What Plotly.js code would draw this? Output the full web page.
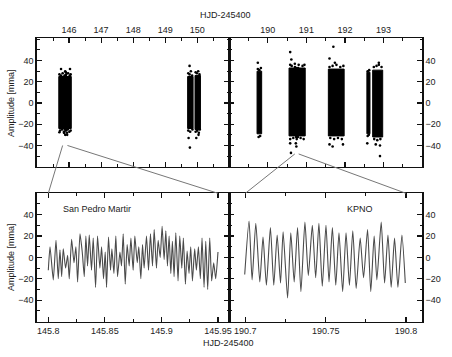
<!DOCTYPE html>
<html><head><meta charset="utf-8">
<script src="https://cdn.plot.ly/plotly-3.0.1.min.js"></script>
<style>html,body{margin:0;padding:0;background:#fff}#c{width:452px;height:357px}</style>
</head><body><div id="c"></div>
<script>
// ---- Data ----
// San Pedro Martir light curve (HJD-245400, amplitude mma)
const spmT = [145.8000,145.8015,145.8044,145.8068,145.8088,145.8103,145.8118,145.8132,145.8153,145.8171,
145.8185,145.8206,145.8227,145.8244,145.8259,145.8280,145.8300,145.8318,145.8332,145.8347,
145.8362,145.8382,145.8397,145.8418,145.8435,145.8456,145.8471,145.8488,145.8503,145.8515,
145.8532,145.8550,145.8562,145.8580,145.8597,145.8612,145.8633,145.8647,145.8662,145.8680,
145.8697,145.8715,145.8730,145.8750,145.8765,145.8786,145.8800,145.8818,145.8833,145.8847,
145.8868,145.8886,145.8903,145.8921,145.8936,145.8956,145.8971,145.8989,145.9006,145.9024,
145.9039,145.9053,145.9068,145.9083,145.9097,145.9112,145.9127,145.9147,145.9162,145.9180,
145.9194,145.9212,145.9227,145.9244,145.9259,145.9274,145.9294,145.9309,145.9327,145.9344,
145.9359,145.9377,145.9392,145.9409,145.9427,145.9444,145.9462,145.9480,145.9500];
const spmY = [-12,10,-21,16,-20,7,-18,8,-10,2,
-20,17,-5,10,-23,22,5,-18,20,-8,
21,-12,18,-28,20,-10,10,-20,5,-28,
19,-12,8,-15,20,-18,5,-8,22,-25,
12,-8,18,-12,20,-5,10,-20,12,-10,
20,-12,22,-8,26,-10,16,0,29,-2,
25,-8,20,-15,15,-18,23,-22,20,-10,
18,-25,6,-15,10,-22,8,-12,10,-20,
18,-28,15,-30,18,-22,-5,-20,5];
// KPNO light curve
const kpnoT = [190.6996,190.7023,190.7042,190.7065,190.7090,190.7110,190.7131,190.7156,190.7177,190.7198,
190.7219,190.7235,190.7263,190.7283,190.7304,190.7325,190.7346,190.7371,190.7392,190.7417,
190.7438,190.7458,190.7479,190.7502,190.7521,190.7542,190.7563,190.7583,190.7606,190.7627,
190.7648,190.7669,190.7690,190.7715,190.7736,190.7761,190.7781,190.7802,190.7819,190.7846,
190.7867,190.7888,190.7908,190.7929,190.7950,190.7975,190.7996];
const kpnoY = [-16,34,-21,32,-23,19,-26,28,-26,21,
-24,24,-38,23,-23,28,-32,33,-17,30,
-19,32,-27,30,-23,28,-26,23,-32,23,
-26,25,-29,18,-19,26,-32,20,-21,33,
-24,21,-28,18,-28,21,-24];
// Dense observing runs in the overview panels (core bands)
const bandStart = [145.68,149.70,149.93,189.72,190.55,191.57,192.57,192.72];
const bandEnd   = [146.07,149.87,150.10,189.84,190.97,191.98,192.65,192.98];
const bandLow   = [-24,-24,-25,-29,-31,-31,-29,-32];
const bandHigh  = [25,25,26,30,33,32,29,31];
const bandPanel = ['L','L','L','R','R','R','R','R'];
// Edge / outlier points, left overview (145-151)
const tlPtsX = [145.70,145.75,145.80,145.86,145.91,145.97,146.02,146.05,145.72,145.78,145.84,145.90,145.96,146.01,146.05,
145.75,145.88,146.03,145.70,145.88,
149.72,149.76,149.80,149.84,149.72,149.78,149.85,149.76,149.77,149.73,
149.95,149.99,150.03,150.07,149.95,150.00,150.05,150.08,149.97,150.04];
const tlPtsY = [27,26,28,26,27,28,26,27,-26,-25,-27,-26,-25,-27,-26,
32,30,32,-27.5,-30,
28,27,30,26,-26,-27,-25,35,-42,-33,
29,28,30,27,-27,-26,-28,-25,-33,-30];
// Edge / outlier points, right overview (189-194)
const trPtsX = [189.74,189.78,189.82,189.76,189.80,189.74,
190.58,190.62,190.70,190.80,190.90,190.95,190.58,190.66,190.75,190.85,190.93,
190.58,190.61,190.58,190.74,190.60,
191.60,191.68,191.78,191.88,191.96,191.62,191.72,191.82,191.92,
191.70,191.60,191.74,191.60,191.68,191.95,
192.59,192.63,192.59,192.62,192.58,
192.75,192.82,192.88,192.95,192.76,192.84,192.92,
192.80,192.91,192.91,192.88];
const trPtsY = [32,31,33,-32,-31,38,
36,35,37,36,35,36,-34,-33,-34,-33,-34,
48,41,-38,-41,-47,
34,35,36,34,35,-33,-34,-33,-34,
53,42,38,-39,-41,-39,
30,31,-31,-30,-38,
34,35,36,34,-34,-35,-34,
-39,-40,-50,38];
// Tick labels
const tlTicks = [146,147,148,149,150];
const trTicks = [190,191,192,193];
const blTicks = [145.8,145.85,145.9,145.95];
const brTicks = [190.7,190.75,190.8];
const yTicks = [-40,-20,0,20,40];

// ---- Layout geometry ----
const W=452,H=357;
const dL=[37/W,229.3/W], dR=[229.3/W,422/W];
const dT=[1-166.7/H,1-38.3/H], dB=[1-321.5/H,1-193.3/H];
const rTL=[145,151], rTR=[189,194], rBL=[145.79,145.96], rBR=[190.69,190.81];
const rYT=[-60,61], rYB=[-60,60];
const FONT='Liberation Sans, Arial, sans-serif';

const traces=[];
for(let i=0;i<bandStart.length;i++){
  const xa = bandPanel[i]==='L'?'x':'x2', ya = bandPanel[i]==='L'?'y':'y2';
  traces.push({x:[bandStart[i],bandEnd[i],bandEnd[i],bandStart[i],bandStart[i]],
    y:[bandLow[i],bandLow[i],bandHigh[i],bandHigh[i],bandLow[i]],
    xaxis:xa,yaxis:ya,mode:'lines',fill:'toself',fillcolor:'#000',line:{width:1,color:'#000'},hoverinfo:'skip'});
}
const mk={size:2.6,color:'#000'};
traces.push({x:tlPtsX,y:tlPtsY,xaxis:'x',yaxis:'y',mode:'markers',marker:mk});
traces.push({x:spmT,y:spmY,xaxis:'x',yaxis:'y',mode:'markers',marker:mk});
traces.push({x:trPtsX,y:trPtsY,xaxis:'x2',yaxis:'y2',mode:'markers',marker:mk});
traces.push({x:kpnoT,y:kpnoY,xaxis:'x2',yaxis:'y2',mode:'markers',marker:mk});
traces.push({x:spmT,y:spmY,xaxis:'x3',yaxis:'y3',mode:'lines',line:{color:'#4a4a4a',width:1.1,shape:'spline',smoothing:0.5}});
traces.push({x:kpnoT,y:kpnoY,xaxis:'x4',yaxis:'y4',mode:'lines',line:{color:'#4a4a4a',width:1.1,shape:'spline',smoothing:0.6}});

function ax(extra){
  return Object.assign({showline:true,linecolor:'#111',linewidth:1.6,mirror:'allticks',
    ticks:'inside',ticklen:5,tickwidth:1.2,tickcolor:'#111',showgrid:false,zeroline:false,
    tickfont:{family:FONT,size:9,color:'#222'},fixedrange:true},extra);
}
function minor(d,t0){return {ticks:'inside',ticklen:2.5,tickwidth:1,tickcolor:'#111',dtick:d,tick0:t0,showgrid:false};}

const layout={
  width:W,height:H,margin:{l:0,r:0,t:0,b:0},paper_bgcolor:'#fff',plot_bgcolor:'#fff',
  showlegend:false,hovermode:false,
  xaxis:ax({domain:dL,range:rTL,anchor:'y',side:'top',tickvals:tlTicks,ticktext:tlTicks.map(String),minor:minor(0.5,145)}),
  yaxis:ax({domain:dT,range:rYT,anchor:'x',side:'left',tickvals:yTicks,minor:minor(10,0)}),
  xaxis2:ax({domain:dR,range:rTR,anchor:'y2',side:'top',tickvals:trTicks,ticktext:trTicks.map(String),minor:minor(0.5,189)}),
  yaxis2:ax({domain:dT,range:rYT,anchor:'x2',side:'right',tickvals:yTicks,minor:minor(10,0)}),
  xaxis3:ax({domain:dL,range:rBL,anchor:'y3',side:'bottom',tickvals:blTicks,ticktext:blTicks.map(String),minor:minor(0.025,145.8)}),
  yaxis3:ax({domain:dB,range:rYB,anchor:'x3',side:'left',tickvals:yTicks,minor:minor(10,0)}),
  xaxis4:ax({domain:dR,range:rBR,anchor:'y4',side:'bottom',tickvals:brTicks,ticktext:brTicks.map(String),minor:minor(0.025,190.7)}),
  yaxis4:ax({domain:dB,range:rYB,anchor:'x4',side:'right',tickvals:yTicks,minor:minor(10,0)}),
  annotations:[
    {text:'HJD-245400',xref:'paper',yref:'paper',x:225/W,y:1-15/H,xanchor:'center',yanchor:'middle',showarrow:false,font:{family:FONT,size:9,color:'#222'}},
    {text:'HJD-245400',xref:'paper',yref:'paper',x:228.3/W,y:1-343/H,xanchor:'center',yanchor:'middle',showarrow:false,font:{family:FONT,size:9,color:'#222'}},
    {text:'Amplitude [mma]',xref:'paper',yref:'paper',x:11/W,y:1-103/H,textangle:-90,xanchor:'center',yanchor:'middle',showarrow:false,font:{family:FONT,size:9,color:'#222'}},
    {text:'Amplitude [mma]',xref:'paper',yref:'paper',x:11/W,y:1-257/H,textangle:-90,xanchor:'center',yanchor:'middle',showarrow:false,font:{family:FONT,size:9,color:'#222'}},
    {text:'San Pedro Martir',xref:'paper',yref:'paper',x:61/W,y:1-209/H,xanchor:'left',yanchor:'middle',showarrow:false,font:{family:FONT,size:9,color:'#222'}},
    {text:'KPNO',xref:'paper',yref:'paper',x:345/W,y:1-209/H,xanchor:'left',yanchor:'middle',showarrow:false,font:{family:FONT,size:9,color:'#222'}}
  ],
  shapes:[]
};
function px(v,r,d){return d[0]+(v-r[0])/(r[1]-r[0])*(d[1]-d[0]);}
function conn(xv,yv,rx1,dx1,ry1,dy1,rx2,dx2,dy2){
  return {type:'line',xref:'paper',yref:'paper',x0:px(xv,rx1,dx1),y0:px(yv,ry1,dy1),x1:px(xv,rx2,dx2),y1:dy2[1],line:{color:'#777',width:1}};
}
layout.shapes.push(conn(spmT[0],-40,rTL,dL,rYT,dT,rBL,dL,dB));
layout.shapes.push(conn(145.95,-40,rTL,dL,rYT,dT,rBL,dL,dB));
layout.shapes.push(conn(190.7,-48,rTR,dR,rYT,dT,rBR,dR,dB));
layout.shapes.push(conn(190.8,-48,rTR,dR,rYT,dT,rBR,dR,dB));
Plotly.newPlot('c',traces,layout,{staticPlot:true,displayModeBar:false});
</script></body></html>
